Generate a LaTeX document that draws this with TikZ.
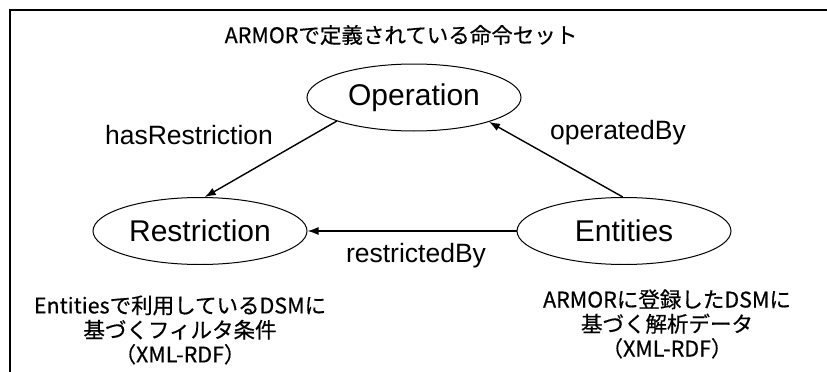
\documentclass[tikz,border=0pt]{standalone}
\usepackage{fontspec}
\setmainfont{Liberation Sans}
\newfontfamily\jp[FakeBold=0.5]{Noto Sans CJK JP}
\usetikzlibrary{shapes.geometric,arrows.meta}

\tikzset{
  concept/.style={ellipse,draw,line width=1pt,minimum width=214pt,minimum height=67pt,inner sep=0pt,font=\fontsize{30}{30}\selectfont},
  rel/.style={font=\fontsize{26.5}{26.5}\selectfont},
  note/.style={align=center,font=\jp\fontsize{21.5}{24.5}\selectfont},
  link/.style={draw,line width=1.4pt,-{Latex[length=11pt,width=8pt]}}
}

\begin{document}
\begin{tikzpicture}[x=1pt,y=-1pt]
\useasboundingbox (0,0) rectangle (827,372);
\draw[line width=2pt] (10,372) -- (10,10) -- (827,10);
\node[note] (title) at (401,35) {ARMORで定義されている命令セット};
\node[concept] (op) at (414,97.5) {Operation};
\node[concept] (res) at (200,231) {Restriction};
\node[concept] (ent) at (624,231) {Entities};
\draw[link] (op.197) -- (res.82);
\draw[link] (ent.92) -- (op.-18);
\draw[link] (ent.west) -- (res.east);
\node[rel] (hasres) at (189,135) {hasRestriction};
\node[rel] (opby) at (618,133) {operatedBy};
\node[rel] (resby) at (416,256) {restrictedBy};
\node[note] (resnote) at (180,330) {Entitiesで利用しているDSMに\\基づくフィルタ条件\\（XML-RDF）};
\node[note] (entnote) at (667,324) {ARMORに登録したDSMに\\基づく解析データ\\（XML-RDF）};
\end{tikzpicture}
\end{document}
